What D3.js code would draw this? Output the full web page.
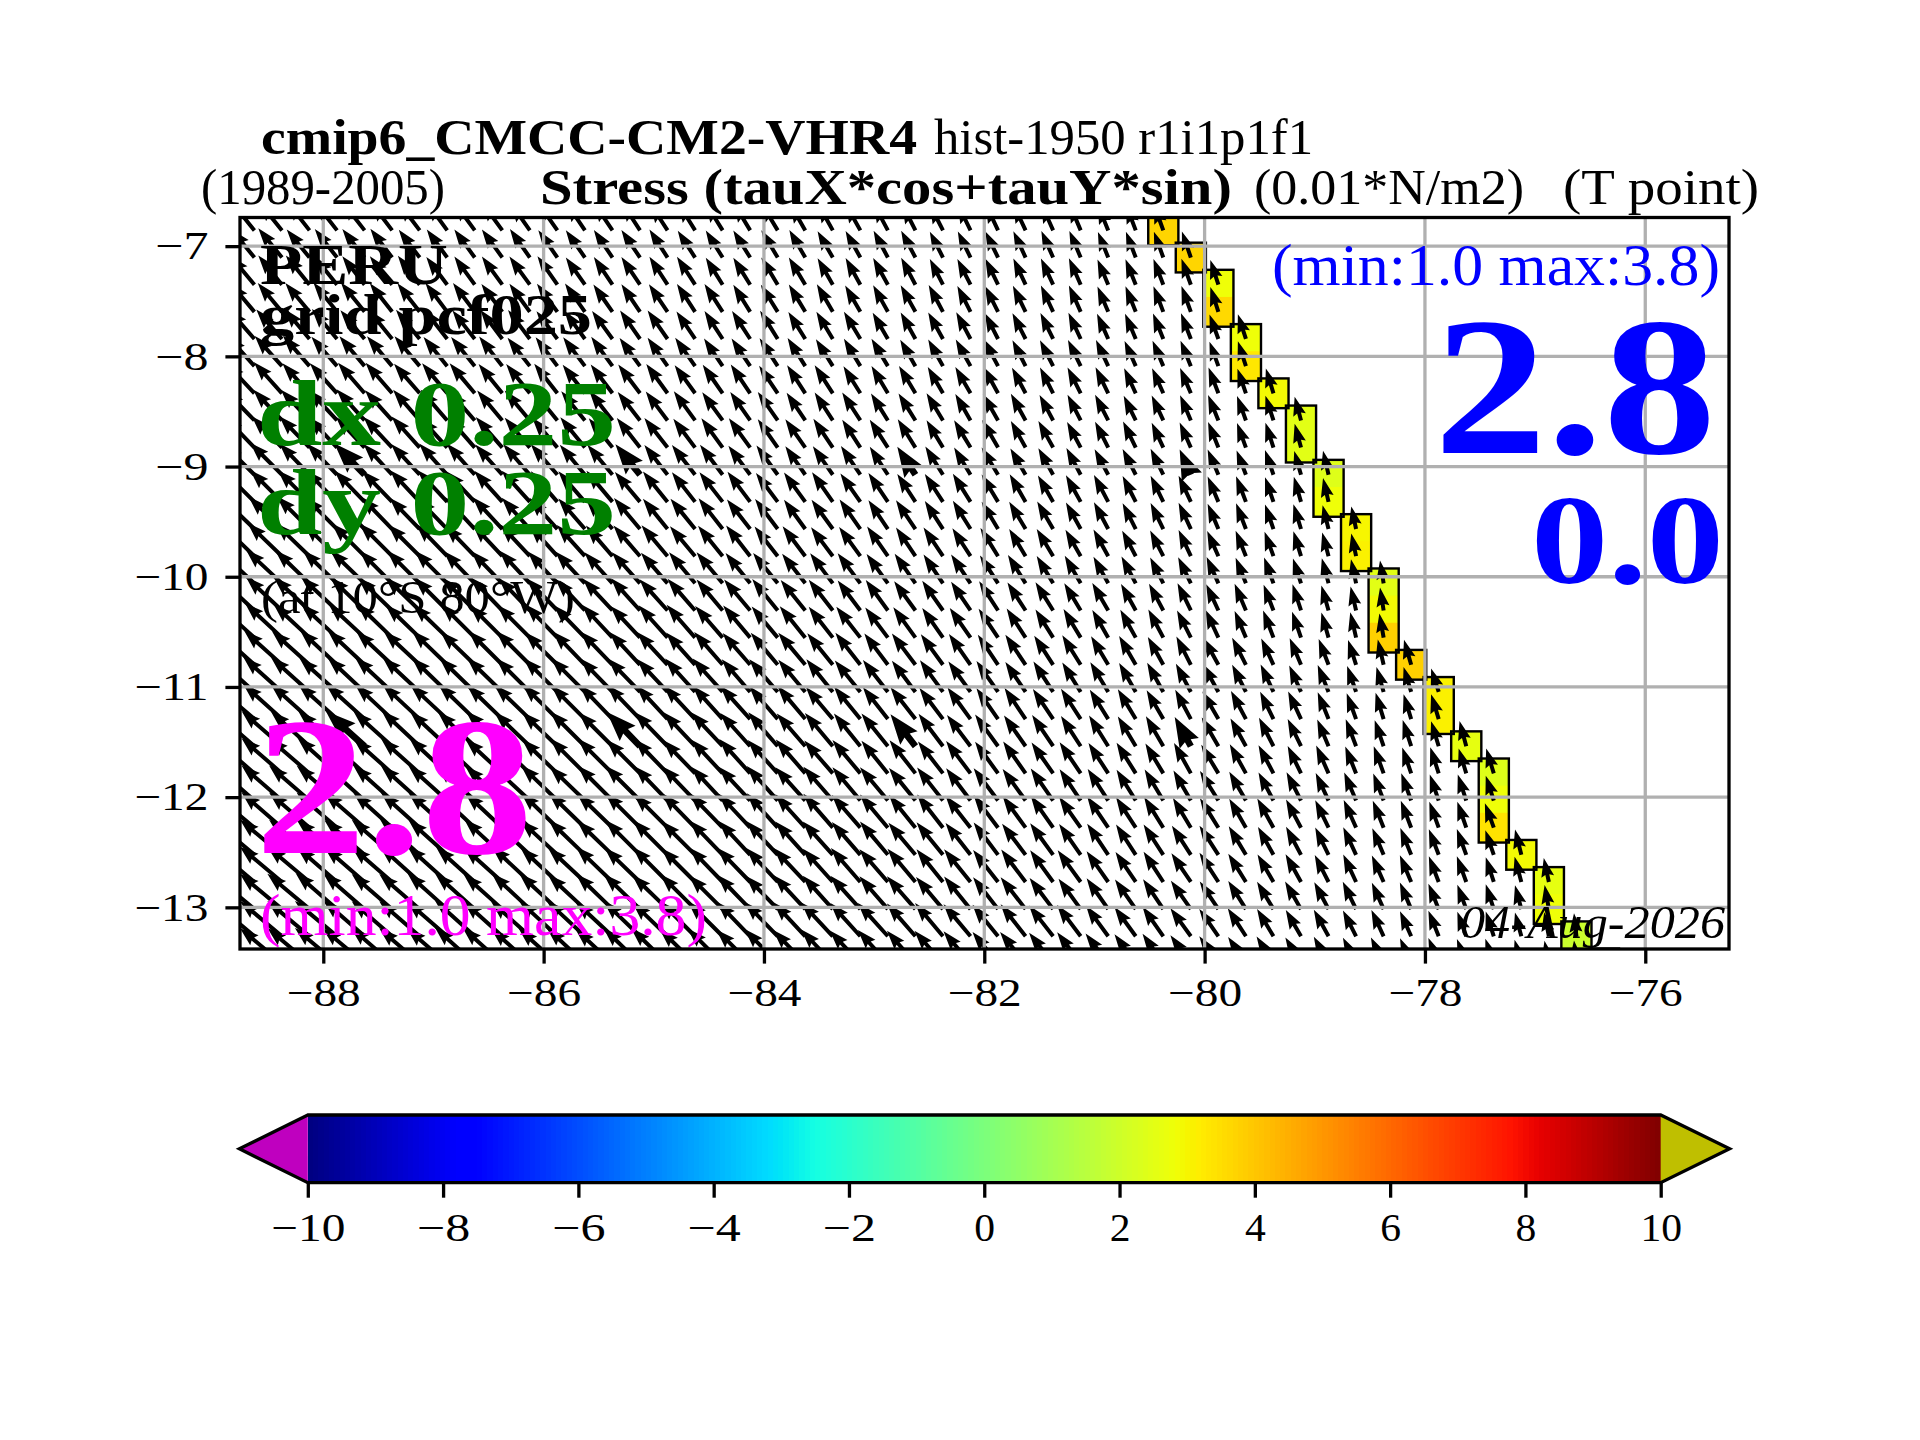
<!DOCTYPE html>
<html><head><meta charset="utf-8">
<script src="https://d3js.org/d3.v7.min.js"></script>
<style>html,body{margin:0;padding:0;background:#fff}svg{display:block}text{font-family:"Liberation Serif",serif}</style>
</head><body><svg id="c" width="1920" height="1440"></svg>
<script>
// ---------- data ----------
const lonTicks=[-88,-86,-84,-82,-80,-78,-76];
const latTicks=[-7,-8,-9,-10,-11,-12,-13];
const cbarTicks=[-10,-8,-6,-4,-2,0,2,4,6,8,10];
const firstLon=-88.625, stepLon=0.25, firstLat=-6.857, stepLat=-0.24637;
const wideCols=[4,14,24,34], wideRows=[9,19];
// coastal cells: row, column, value
const coastRow=[0,1,2,3,4,5,6,7,8,9,10,11,12,13,14,15,16,17,18,19,20,21,22,23,24,25,26,27];
const coastCol=[33,34,35,35,36,36,37,38,38,39,39,40,40,41,41,41,42,43,43,44,45,45,45,46,47,47,48,49];
const coastVal=[3.7,3.7,2.8,3.6,2.8,3.3,2.9,2.5,2.5,2.4,2.8,3.0,3.1,2.5,2.9,3.8,3.8,3.1,3.1,2.6,2.4,2.8,3.4,2.9,2.6,2.8,1.9,1.9];
// arrow direction, degrees west of north, one list per grid row
const dirRows=[
[39,39,38,38,38,37,37,36,36,36,35,35,34,34,33,33,32,32,31,31,30,29,29,28,27,27,26,25,25,24,23,22,21,20],
[39,39,39,38,38,37,37,36,36,36,35,35,35,34,34,33,33,32,32,31,30,30,29,28,28,27,26,26,25,24,23,22,21,20,19],
[40,39,39,39,38,38,37,37,36,36,36,35,35,34,34,33,33,32,32,31,31,30,29,29,28,27,27,26,25,25,24,23,22,21,20,18],
[40,40,40,39,39,38,38,37,37,37,36,36,35,35,34,34,33,33,32,32,31,30,30,29,29,28,27,27,26,25,24,23,22,21,20,18],
[41,41,40,40,40,39,39,38,38,37,37,37,36,36,35,35,34,33,33,32,32,31,31,30,29,29,28,27,27,26,25,24,23,22,21,20,18],
[42,42,41,41,40,40,40,39,39,38,38,37,37,36,36,35,35,34,34,33,32,32,31,31,30,29,29,28,27,27,26,25,24,23,22,20,18],
[43,42,42,42,41,41,41,40,40,39,39,38,38,37,37,36,36,35,34,34,33,33,32,31,31,30,30,29,28,27,27,26,25,24,23,21,19,17],
[44,43,43,43,42,42,41,41,41,40,40,39,39,38,38,37,36,36,35,35,34,33,33,32,32,31,30,30,29,28,27,27,26,25,23,22,20,18,15],
[44,44,44,43,43,43,42,42,41,41,40,40,39,39,38,38,37,36,36,35,35,34,33,33,32,31,31,30,29,29,28,27,26,25,24,22,20,18,15],
[45,45,44,44,44,43,43,42,42,42,41,41,40,40,39,38,38,37,37,36,35,35,34,33,33,32,31,31,30,29,28,28,27,26,24,23,21,19,16,13],
[45,45,45,45,44,44,43,43,43,42,42,41,41,40,40,39,38,38,37,37,36,35,35,34,33,33,32,31,30,30,29,28,27,26,25,23,21,19,16,13],
[46,46,45,45,45,44,44,44,43,43,42,42,41,41,40,39,39,38,38,37,36,36,35,34,34,33,32,31,31,30,29,28,27,26,25,23,21,19,17,14,12],
[46,46,46,46,45,45,45,44,44,43,43,42,42,41,41,40,40,39,38,38,37,37,36,35,34,34,33,32,31,31,30,29,28,27,25,24,22,20,17,15,12],
[47,47,46,46,46,45,45,45,44,44,43,43,43,42,42,41,40,40,39,39,38,37,37,36,35,34,34,33,32,31,30,29,28,27,26,24,22,20,18,15,12,9],
[47,47,47,47,46,46,46,45,45,44,44,44,43,43,42,42,41,40,40,39,39,38,37,36,36,35,34,33,33,32,31,30,29,28,26,25,23,21,18,16,13,9],
[48,47,47,47,47,46,46,46,45,45,45,44,44,43,43,42,41,41,40,40,39,38,38,37,36,35,35,34,33,32,31,30,29,28,27,25,23,21,19,16,13,10],
[48,48,48,47,47,47,47,46,46,45,45,45,44,44,43,43,42,41,41,40,40,39,38,37,37,36,35,34,34,33,32,31,30,29,27,29,27,25,23,21,18,13,16],
[48,48,48,48,47,47,47,46,46,46,45,45,45,44,44,43,42,42,41,41,40,39,39,38,37,36,36,35,34,33,32,31,30,29,28,29,27,25,24,22,19,16,17,18],
[49,48,48,48,48,47,47,47,46,46,46,45,45,44,44,43,43,42,42,41,40,40,39,38,38,37,36,35,34,34,33,32,31,30,28,30,28,26,25,22,20,17,17,17],
[49,49,48,48,48,48,47,47,47,46,46,46,45,45,44,44,43,43,42,41,41,40,39,39,38,37,37,36,35,34,33,32,31,30,29,30,29,27,26,23,21,19,18,17,15],
[49,49,49,48,48,48,48,47,47,47,46,46,45,45,45,44,44,43,42,42,41,41,40,39,38,38,37,36,35,35,34,33,32,31,29,31,29,28,26,24,22,20,19,18,17,17],
[49,49,49,49,48,48,48,48,47,47,47,46,46,45,45,44,44,43,43,42,42,41,40,40,39,38,37,37,36,35,34,33,32,31,30,32,30,28,27,25,23,21,20,19,18,18],
[50,49,49,49,49,48,48,48,47,47,47,46,46,46,45,45,44,44,43,42,42,41,41,40,39,38,38,37,36,35,35,34,33,32,31,32,30,29,28,26,24,22,21,20,19,20],
[50,50,49,49,49,49,48,48,48,47,47,47,46,46,45,45,45,44,43,43,42,42,41,40,40,39,38,37,37,36,35,34,33,33,33,33,31,29,28,26,25,23,22,21,20,19,14],
[50,50,50,49,49,49,48,48,48,48,47,47,47,46,46,45,45,44,44,43,43,42,41,41,40,39,39,38,37,36,36,35,34,33,34,33,32,30,29,27,25,24,23,21,20,18,15,12],
[50,50,50,49,49,49,49,48,48,48,47,47,47,46,46,46,45,45,44,44,43,42,42,41,41,40,39,38,38,37,36,35,35,34,35,34,32,31,30,28,26,24,23,22,20,18,15,10],
[50,50,50,50,49,49,49,49,48,48,48,47,47,47,46,46,45,45,44,44,43,43,42,42,41,40,40,39,38,38,37,36,36,35,36,35,33,31,30,29,27,25,24,22,20,18,15,11,6],
[50,50,50,50,50,49,49,49,48,48,48,48,47,47,46,46,46,45,45,44,44,43,43,42,41,41,40,39,39,38,37,37,36,35,36,35,34,32,31,29,27,26,24,22,21,19,16,11,6]
];
// arrow strength, tenths of a unit, one list per grid row
const magRows=[
[25,25,25,25,25,24,24,24,24,24,23,23,23,23,23,22,22,22,22,22,21,21,21,21,20,20,20,20,20,20,20,19,19,19],
[25,26,25,25,25,25,24,24,24,24,24,23,23,23,23,23,22,22,22,22,22,21,21,21,21,20,20,20,20,20,20,19,19,19,19],
[26,26,26,25,25,25,25,24,24,24,24,24,23,23,23,23,23,22,22,22,22,21,21,21,21,20,20,20,20,20,20,19,19,19,19,18],
[26,26,26,26,26,25,25,25,25,24,24,24,24,23,23,23,23,23,22,22,22,22,21,21,21,21,20,20,20,20,20,19,19,19,19,18],
[27,27,27,27,26,26,26,26,25,25,25,24,24,24,24,24,23,23,23,23,22,22,22,21,21,21,21,20,20,20,20,19,19,19,19,18,18],
[28,28,28,27,27,27,27,26,26,26,25,25,25,25,24,24,24,23,23,23,23,22,22,22,21,21,21,21,20,20,20,20,19,19,19,18,18],
[29,29,28,28,28,28,27,27,27,26,26,26,25,25,25,25,24,24,24,23,23,23,22,22,22,21,21,21,20,20,20,20,19,19,19,19,18,18],
[29,29,29,29,29,28,28,28,27,27,27,26,26,26,25,25,25,24,24,24,23,23,23,22,22,22,21,21,21,20,20,20,19,19,19,19,18,18,17],
[30,30,30,29,29,29,29,28,28,28,27,27,27,26,26,26,25,25,25,24,24,24,23,23,23,22,22,22,21,21,20,20,20,19,19,19,18,18,17],
[30,31,30,30,30,29,29,29,29,28,28,28,27,27,27,26,26,26,25,25,24,24,24,23,23,23,22,22,21,21,21,20,20,20,19,19,18,18,17,17],
[31,31,31,31,30,30,30,30,29,29,29,28,28,28,27,27,26,26,26,25,25,25,24,24,23,23,23,22,22,21,21,21,20,20,20,19,19,18,18,17],
[32,32,32,31,31,31,30,30,30,30,29,29,28,28,28,27,27,27,26,26,25,25,25,24,24,23,23,22,22,22,21,21,20,20,20,19,19,18,18,17,16],
[33,33,33,32,32,32,31,31,30,30,30,29,29,28,28,28,27,27,27,26,26,25,25,25,24,24,23,23,22,22,21,21,20,20,20,19,19,18,18,17,16],
[33,34,33,33,33,32,32,32,31,31,31,30,30,29,29,28,28,28,27,27,26,26,26,25,25,24,24,23,23,22,22,21,21,20,20,20,19,19,18,18,17,16],
[34,34,34,34,33,33,33,32,32,32,31,31,30,30,30,29,29,28,28,28,27,27,26,26,25,25,24,24,23,23,22,22,21,21,21,20,20,19,19,18,17,16],
[35,35,34,34,34,34,33,33,33,32,32,32,31,31,30,30,30,29,29,28,28,27,27,26,26,25,25,24,24,23,23,22,22,22,21,21,20,20,19,18,18,17],
[35,35,35,35,35,34,34,34,33,33,33,32,32,32,31,31,30,30,29,29,29,28,28,27,27,26,26,25,25,24,24,23,23,22,22,21,21,20,20,19,18,18,18],
[36,36,36,35,35,35,35,34,34,34,33,33,33,32,32,31,31,31,30,30,29,29,28,28,27,27,26,26,25,25,24,24,23,23,22,22,21,21,20,20,19,18,18,17],
[36,36,36,36,36,35,35,35,35,34,34,34,33,33,33,32,32,31,31,30,30,29,29,28,28,27,27,26,26,25,25,24,24,23,23,22,22,21,21,20,19,19,18,18],
[37,37,36,36,36,36,36,35,35,35,34,34,34,33,33,33,32,32,31,31,30,30,29,29,28,28,27,27,26,26,25,25,24,24,23,23,22,22,21,20,20,19,19,18,18],
[37,37,37,37,36,36,36,36,35,35,35,34,34,34,33,33,32,32,32,31,31,30,30,29,29,28,28,27,27,26,26,25,25,24,24,23,23,22,21,21,20,20,19,19,18,18],
[37,37,37,37,37,36,36,36,36,35,35,35,34,34,34,33,33,32,32,32,31,31,30,30,29,29,28,28,27,27,26,26,25,25,24,24,23,22,22,21,21,20,20,19,19,18],
[37,37,37,37,37,36,36,36,36,35,35,35,35,34,34,33,33,33,32,32,31,31,30,30,29,29,28,28,27,27,26,26,25,25,24,24,23,23,22,21,21,20,20,19,19,18],
[37,38,37,37,37,37,37,36,36,36,35,35,35,34,34,34,33,33,32,32,31,31,30,30,29,29,28,28,27,27,26,26,25,25,24,24,23,22,22,21,21,20,20,19,19,18,18],
[38,38,38,37,37,37,37,37,36,36,36,35,35,35,34,34,33,33,33,32,32,31,31,30,30,29,29,28,28,27,27,26,25,25,24,24,23,22,22,21,21,20,20,19,19,18,18,17],
[38,38,38,38,38,37,37,37,37,36,36,36,35,35,35,34,34,33,33,32,32,31,31,30,30,29,29,28,28,27,26,26,25,25,24,23,23,22,22,21,21,20,20,19,18,18,17,17],
[38,38,38,38,38,37,37,37,37,36,36,36,36,35,35,34,34,34,33,33,32,32,31,31,30,30,29,28,28,27,27,26,25,25,24,23,23,22,21,21,20,20,19,19,18,18,17,17,16],
[38,38,38,38,38,38,37,37,37,37,36,36,36,35,35,35,34,34,33,33,32,32,31,31,30,30,29,28,28,27,27,26,25,25,24,23,22,22,21,21,20,20,19,19,18,18,17,16,16]
];
// text: string, x start, x end, baseline, size, colour, weight, style
const labels=[
["cmip6_CMCC-CM2-VHR4",261,917,154,50,"#000","bold","normal"],
["hist-1950 r1i1p1f1",934,1313,154,50,"#000","normal","normal"],
["(1989-2005)",201,445,204,50,"#000","normal","normal"],
["Stress (tauX*cos+tauY*sin)",540,1232,204,50,"#000","bold","normal"],
["(0.01*N/m2)",1254,1524,204,50,"#000","normal","normal"],
["(T point)",1563,1759,204,50,"#000","normal","normal"],
["PERU",260,448,284,58,"#000","bold","normal"],
["grid pcf025",260,592,334,58,"#000","bold","normal"],
["dx 0.25",257,616,445,94,"#008000","bold","normal"],
["dy 0.25",257,616,534,94,"#008000","bold","normal"],
["(at 10°S 80°W)",261,575,613,47,"#000","normal","normal"],
["2.8",255,533,853,197,"#ff00ff","bold","normal"],
["(min:1.0 max:3.8)",260,707,935,59,"#ff00ff","normal","normal"],
["(min:1.0 max:3.8)",1272,1720,285,59,"#0000ff","normal","normal"],
["2.8",1434,1716,453,197,"#0000ff","bold","normal"],
["0.0",1531,1724,583,128,"#0000ff","bold","normal"],
["04-Aug-2026",1460,1725,938,46,"#000","normal","italic"]
];
// ---------- drawing ----------
const svg=d3.select("#c");
const box={l:240,r:1729,t:217.5,b:949};
const x=d3.scaleLinear([-88.756,-75.24],[box.l,box.r]);
const y=d3.scaleLinear([-6.74,-13.378],[box.t,box.b]);
const mag=d3.scaleLinear([0,38],[0,55]);
const rx=d3.scaleLinear([0,.35,.66,.89,1],[0,0,1,1,.5]);
const gx=d3.scaleLinear([0,.125,.375,.64,.91,1],[0,0,1,1,0,0]);
const bx=d3.scaleLinear([0,.11,.34,.65,1],[.5,1,1,0,0]);
const jet=t=>d3.rgb(255*rx(t),255*gx(t),255*bx(t)).formatRgb();
const val=d3.scaleLinear([-10,10],[0,1]);
const lon=c=>firstLon+stepLon*c, lat=r=>firstLat+stepLat*r;
svg.append("defs").append("clipPath").attr("id","ax").append("rect")
  .attr("x",box.l).attr("y",box.t).attr("width",box.r-box.l).attr("height",box.b-box.t);
const plot=svg.append("g").attr("clip-path","url(#ax)");
// cells
const hw=(x(stepLon)-x(0))/2, hh=(y(stepLat)-y(0))/2, grow=1.3;
const cells=coastRow.map((r,i)=>({r,c:coastCol[i],v:coastVal[i]}));
plot.selectAll("rect.cell").data(cells).join("rect").attr("class","cell")
  .attr("x",d=>x(lon(d.c))-hw-grow).attr("width",2*hw+2*grow)
  .attr("y",d=>y(lat(d.r))-hh-grow).attr("height",2*hh+2*grow)
  .attr("fill",d=>jet(val(d.v)));
// contour round the runs of cells
const runs=[];cells.forEach(d=>{const l=runs[runs.length-1];if(l&&l.c===d.c)l.r1=d.r;else runs.push({c:d.c,r0:d.r,r1:d.r});});
plot.selectAll("rect.run").data(runs).join("rect").attr("class","run")
  .attr("x",d=>x(lon(d.c))-hw-grow).attr("width",2*hw+2*grow)
  .attr("y",d=>y(lat(d.r0))-hh-grow).attr("height",d=>y(lat(d.r1))-y(lat(d.r0))+2*hh+2*grow)
  .attr("fill","none").attr("stroke","#000").attr("stroke-width",2.4);
// arrows
const arrows=[];dirRows.forEach((row,r)=>row.forEach((a,c)=>{const m=magRows[r][c];if(m!==undefined)arrows.push({r,c,a,m});}));
function arrowPath(L,w,hl,ax,hwid){return `M0,${-w/2}L${L-ax},${-w/2}L${L-hl},${-hwid}L${L},0L${L-hl},${hwid}L${L-ax},${w/2}L0,${w/2}Z`;}
plot.selectAll("path.arrow").data(arrows).join("path").attr("class","arrow")
  .attr("transform",d=>`translate(${x(lon(d.c))},${y(lat(d.r))}) rotate(${-90-d.a})`)
  .attr("d",d=>{const wide=wideCols.includes(d.c)&&wideRows.includes(d.r);const w=wide?6.6:4;
    return wide?arrowPath(mag(d.m),w,30,27,11):arrowPath(mag(d.m),w,19,17,6.5);})
  .attr("fill","#000");
// grid
plot.selectAll("line.gx").data(lonTicks).join("line").attr("x1",d=>x(d)).attr("x2",d=>x(d)).attr("y1",box.t).attr("y2",box.b).attr("stroke","#b0b0b0").attr("stroke-width",3.3);
plot.selectAll("line.gy").data(latTicks).join("line").attr("y1",d=>y(d)).attr("y2",d=>y(d)).attr("x1",box.l).attr("x2",box.r).attr("stroke","#b0b0b0").attr("stroke-width",3.3);
// axes
const fmt=d=>(d<0?"\u2212":"")+Math.abs(d);
const fit=s=>s.attr("textLength",function(){const t=this.textContent;return 20.8*t.replace("\u2212","").length+(t[0]==="\u2212"?32.4:0);}).attr("lengthAdjust","spacingAndGlyphs");
function styleAxis(g){g.select(".domain").remove();g.selectAll(".tick line").attr("stroke","#000").attr("stroke-width",3.3);
  g.selectAll(".tick text").attr("fill","#000").style("font-family",'"Liberation Serif",serif').style("font-size","40px").call(fit);g.attr("font-size",null).attr("font-family",null);}
svg.append("g").attr("transform",`translate(0,${box.b})`).call(d3.axisBottom(x).tickValues(lonTicks).tickFormat(fmt).tickSize(14.6).tickPadding(14)).call(styleAxis);
svg.append("g").attr("transform",`translate(${box.l},0)`).call(d3.axisLeft(y).tickValues(latTicks).tickFormat(fmt).tickSize(14.6).tickPadding(17)).call(styleAxis);
// text
svg.selectAll("text.lab").data(labels).join("text").attr("class","lab")
  .attr("x",d=>d[1]).attr("y",d=>d[3]).text(d=>d[0])
  .attr("textLength",d=>d[2]-d[1]).attr("lengthAdjust","spacingAndGlyphs")
  .style("font-size",d=>d[4]+"px").attr("fill",d=>d[5]).style("font-weight",d=>d[6]).style("font-style",d=>d[7]);
// spines
svg.append("rect").attr("x",box.l).attr("y",box.t).attr("width",box.r-box.l).attr("height",box.b-box.t).attr("fill","none").attr("stroke","#000").attr("stroke-width",3.3);
// colour bar
const cb={l:307.8,r:1660.7,t:1115,b:1182.7,tipL:239.4,tipR:1729.6};
const cx=d3.scaleLinear([-10,10],[cb.l,cb.r]);
const levels=d3.range(256).map(i=>-10+20*i/256);
const cg=svg.append("g");
cg.selectAll("rect").data(levels).join("rect").attr("x",d=>cx(d)).attr("y",cb.t).attr("width",(cb.r-cb.l)/256+1).attr("height",cb.b-cb.t).attr("shape-rendering","crispEdges").attr("fill",d=>jet(val(d+10/256)));
const my=(cb.t+cb.b)/2;
cg.append("path").attr("d",`M${cb.l},${cb.t}L${cb.tipL},${my}L${cb.l},${cb.b}Z`).attr("fill","#bf00bf");
cg.append("path").attr("d",`M${cb.r},${cb.t}L${cb.tipR},${my}L${cb.r},${cb.b}Z`).attr("fill","#bfbf00");
cg.append("path").attr("d",`M${cb.l},${cb.t}L${cb.tipL},${my}L${cb.l},${cb.b}L${cb.r},${cb.b}L${cb.tipR},${my}L${cb.r},${cb.t}Z`).attr("fill","none").attr("stroke","#000").attr("stroke-width",3.3);
svg.append("g").attr("transform",`translate(0,${cb.b})`).call(d3.axisBottom(cx).tickValues(cbarTicks).tickFormat(fmt).tickSize(15).tickPadding(15)).call(styleAxis);
</script></body></html>
